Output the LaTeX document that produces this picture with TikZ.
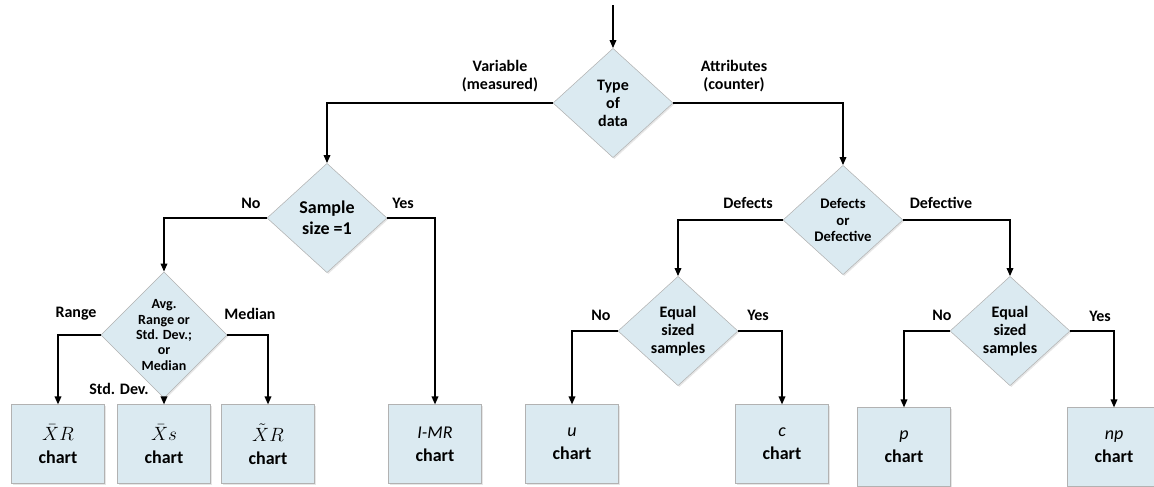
\documentclass[tikz,border=0pt]{standalone}
\usepackage{fontspec}
\setmainfont{Carlito}
\usepackage{tikz}
\usetikzlibrary{shapes.geometric,arrows.meta,shadows}
\definecolor{boxblue}{RGB}{219,234,241}
\definecolor{edgegray}{RGB}{178,178,178}

\begin{document}
\begin{tikzpicture}[
    x=0.75pt, y=-0.75pt,
    decision/.style={diamond, draw=edgegray, fill=boxblue, inner sep=0pt, minimum width=90pt, minimum height=82pt, align=center, font=\bfseries\fontsize{12}{13.5}\selectfont, drop shadow={shadow xshift=1pt, shadow yshift=-1pt, opacity=0.2}},
    chart/.style={rectangle, draw=edgegray, fill=boxblue, minimum width=70pt, minimum height=59pt, align=center, font=\fontsize{13.5}{17.5}\selectfont, drop shadow={shadow xshift=1pt, shadow yshift=-1pt, opacity=0.2}},
    lbl/.style={align=center, inner sep=0pt, font=\bfseries\fontsize{12}{13.5}\selectfont},
    arrow/.style={-{Triangle[length=6pt,width=5pt]}, line width=1pt}
]
    \useasboundingbox (0,0) rectangle (1154,486);

    % Decisions
    \coordinate (start) at (613,5);
    \node[decision] (type) at (613,103) {Type\\of\\data};
    \node[decision, font=\bfseries\fontsize{13.5}{15.5}\selectfont] (sample) at (327,218) {Sample\\size =1};
    \node[decision, minimum height=78pt, font=\bfseries\fontsize{10.5}{11.5}\selectfont] (avg) at (164,335) {Avg.\\Range or\\Std. Dev.;\\or\\Median};
    \node[decision, font=\bfseries\fontsize{11}{12.5}\selectfont] (defect) at (843,220) {Defects\\or\\Defective};
    \node[decision] (equal1) at (678,331) {Equal\\sized\\samples};
    \node[decision] (equal2) at (1010,331) {Equal\\sized\\samples};

    % Charts
    \node[chart] (xbarr) at (58,444) {$\bar{X}R$\\\textbf{chart}};
    \node[chart] (xbars) at (164,444) {$\bar{X}s$\\\textbf{chart}};
    \node[chart] (xtilder) at (268,444) {$\tilde{X}R$\\\textbf{chart}};
    \node[chart] (imr) at (435,444) {\textit{I-MR}\\\textbf{chart}};
    \node[chart] (uchart) at (572,444) {\textit{u}\\\textbf{chart}};
    \node[chart] (cchart) at (782,444) {\textit{c}\\\textbf{chart}};
    \node[chart] (pchart) at (904,447) {\textit{p}\\\textbf{chart}};
    \node[chart] (npchart) at (1114,447) {\textit{np}\\\textbf{chart}};

    % Labels
    \node[lbl] (lvar) at (500,76) {Variable\\(measured)};
    \node[lbl] (lattr) at (734,76) {Attributes\\(counter)};
    \node[lbl] (lsno) at (251,203) {No};
    \node[lbl] (lsyes) at (403,203) {Yes};
    \node[lbl] (lrange) at (76,314) {Range};
    \node[lbl] (lmedian) at (250,314) {Median};
    \node[lbl] (lstd) at (119,389) {Std. Dev.};
    \node[lbl] (ldefects) at (748,203) {Defects};
    \node[lbl] (ldefective) at (941,203) {Defective};
    \node[lbl] (leno1) at (601,315) {No};
    \node[lbl] (leyes1) at (758,315) {Yes};
    \node[lbl] (leno2) at (942,315) {No};
    \node[lbl] (leyes2) at (1100,316) {Yes};

    % Arrows
    \draw[arrow] (start) -- (type.north);
    \draw[arrow] (type.west) -| (sample.north);
    \draw[arrow] (type.east) -| (defect.north);
    \draw[arrow] (sample.west) -| (avg.north);
    \draw[arrow] (sample.east) -| (imr.north);
    \draw[arrow] (avg.west) -| (xbarr.north);
    \draw[arrow] (avg.south) -- (xbars.north);
    \draw[arrow] (avg.east) -| (xtilder.north);
    \draw[arrow] (defect.west) -| (equal1.north);
    \draw[arrow] (defect.east) -| (equal2.north);
    \draw[arrow] (equal1.west) -| (uchart.north);
    \draw[arrow] (equal1.east) -| (cchart.north);
    \draw[arrow] (equal2.west) -| (pchart.north);
    \draw[arrow] (equal2.east) -| (npchart.north);
\end{tikzpicture}
\end{document}
